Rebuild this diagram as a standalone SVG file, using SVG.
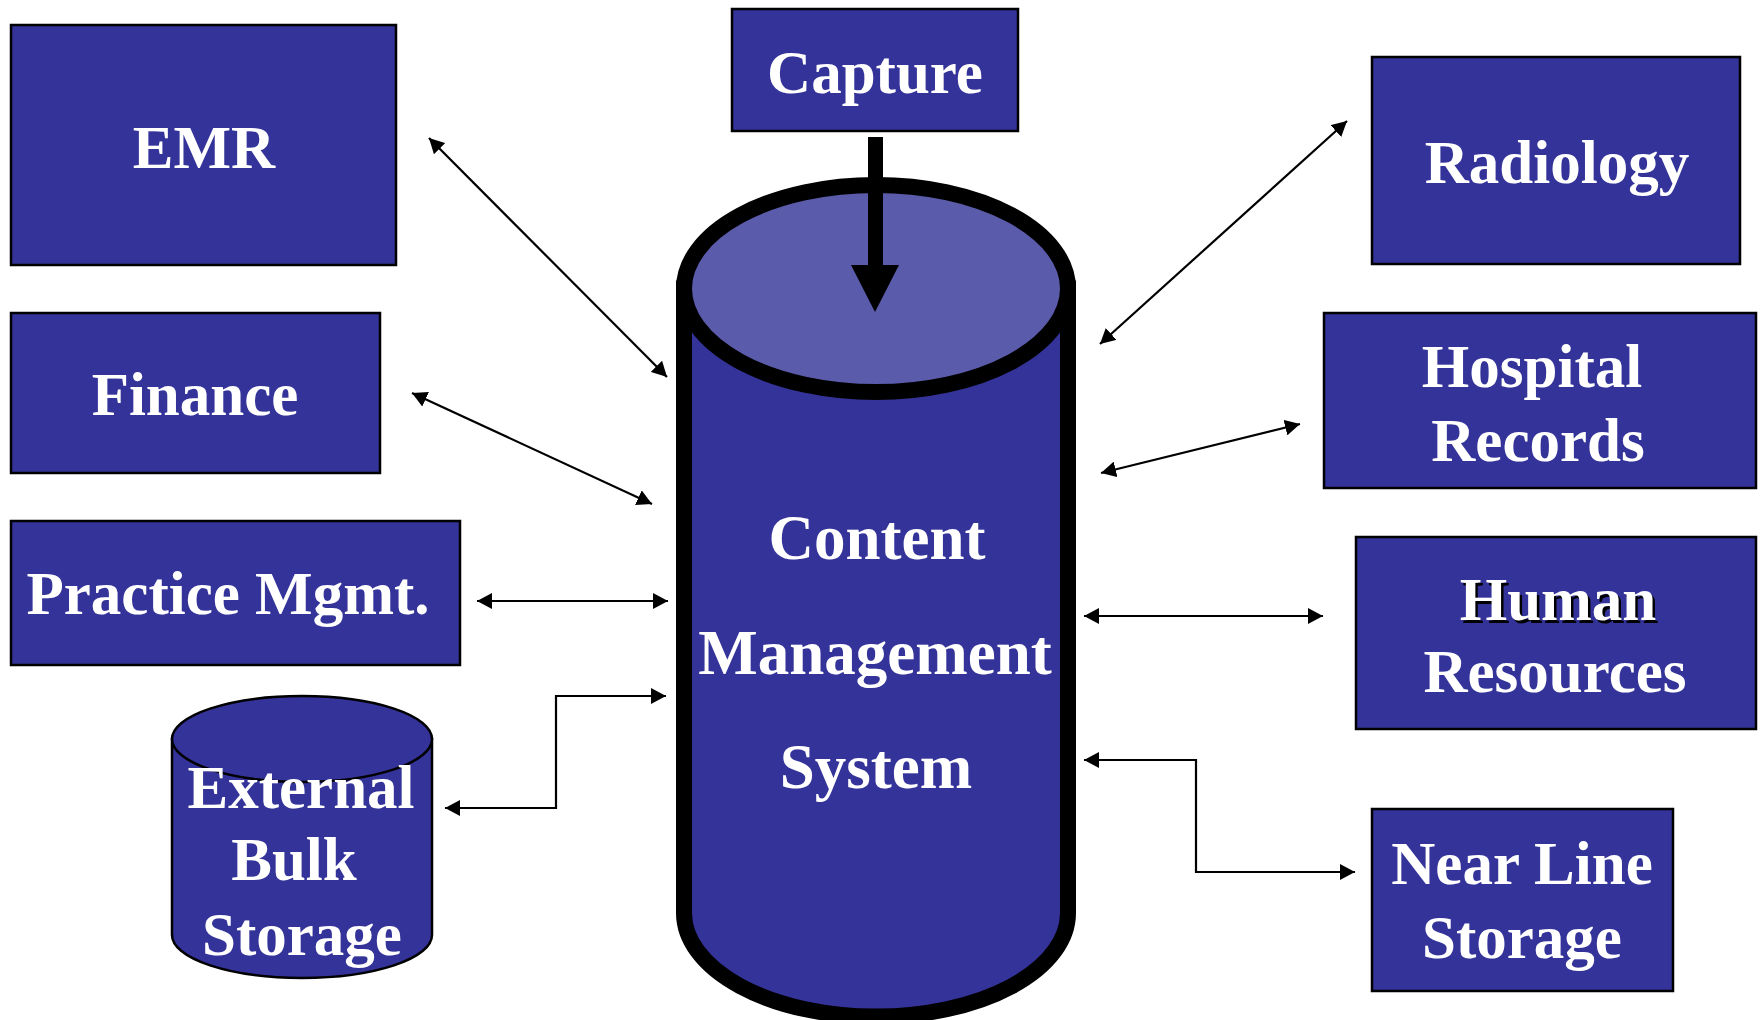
<svg xmlns="http://www.w3.org/2000/svg" width="1760" height="1020" viewBox="0 0 1760 1020">
<style>
.box{fill:#343399;stroke:#000;stroke-width:2.5}
.lbl{font-family:"Liberation Serif","Times New Roman",serif;font-weight:bold;font-size:61px;fill:#fff;text-anchor:middle}
.big{font-size:63px}
.con{fill:none;stroke:#000;stroke-width:2.2}
</style>
<defs>
<marker id="ah" viewBox="0 0 15 16" refX="15" refY="8" markerWidth="15" markerHeight="16" markerUnits="userSpaceOnUse" orient="auto-start-reverse">
<path d="M0,0 L15,8 L0,16 z" fill="#000"/>
</marker>
</defs>
<rect width="1760" height="1020" fill="#fff"/>

<g id="emr"><rect class="box" x="11" y="25" width="385" height="240"/><text class="lbl" x="204" y="168">EMR</text></g>
<g id="finance"><rect class="box" x="11" y="313" width="369" height="160"/><text class="lbl" x="195" y="415">Finance</text></g>
<g id="practice"><rect class="box" x="11" y="521" width="449" height="144"/><text class="lbl" x="228" y="614">Practice Mgmt.</text></g>
<g id="external">
<path d="M172,739 L172,935 A130,43 0 0 0 432,935 L432,739 Z" fill="#343399" stroke="#000" stroke-width="2.5"/>
<ellipse cx="302" cy="739" rx="130" ry="43" fill="#343399" stroke="#000" stroke-width="2.5"/>
<text class="lbl" x="301" y="808">External</text>
<text class="lbl" x="294" y="880">Bulk</text>
<text class="lbl" x="302" y="955">Storage</text>
</g>
<g id="capture"><rect class="box" x="732" y="9" width="286" height="122"/><text class="lbl" x="875" y="93">Capture</text></g>
<g id="radiology"><rect class="box" x="1372" y="57" width="368" height="207"/><text class="lbl" x="1557" y="183">Radiology</text></g>
<g id="hospital"><rect class="box" x="1324" y="313" width="432" height="175"/><text class="lbl" x="1532" y="387">Hospital</text><text class="lbl" x="1538" y="461">Records</text></g>
<g id="hr"><rect class="box" x="1356" y="537" width="400" height="192"/>
<text class="lbl" x="1560.5" y="622.5" fill="#000" style="fill:#000">Human</text>
<text class="lbl" x="1558" y="620">Human</text>
<text class="lbl" x="1555" y="692">Resources</text></g>
<g id="nearline"><rect class="box" x="1372" y="809" width="301" height="182"/><text class="lbl" x="1522" y="884">Near Line</text><text class="lbl" x="1522" y="958">Storage</text></g>

<g id="cms">
<path d="M684,288.5 L684,913 A192,103.5 0 0 0 1068,913 L1068,288.5 Z" fill="#343399" stroke="#000" stroke-width="16"/>
<ellipse cx="876" cy="288.5" rx="192" ry="103.5" fill="#5b5bab" stroke="#000" stroke-width="16"/>
<text class="lbl big" x="877" y="559">Content</text>
<text class="lbl big" x="875" y="674">Management</text>
<text class="lbl big" x="876" y="788">System</text>
</g>

<g id="connectors">
<rect x="868" y="137" width="15" height="130" fill="#000"/>
<polygon points="851,265 899,265 875,312" fill="#000"/>
<line class="con" x1="429" y1="138" x2="667" y2="377" marker-start="url(#ah)" marker-end="url(#ah)"/>
<line class="con" x1="412" y1="393" x2="652" y2="504" marker-start="url(#ah)" marker-end="url(#ah)"/>
<line class="con" x1="477" y1="601" x2="668" y2="601" marker-start="url(#ah)" marker-end="url(#ah)"/>
<polyline class="con" points="666,696 556,696 556,808 445,808" marker-start="url(#ah)" marker-end="url(#ah)"/>
<line class="con" x1="1347" y1="121" x2="1100" y2="344" marker-start="url(#ah)" marker-end="url(#ah)"/>
<line class="con" x1="1300" y1="424" x2="1101" y2="473" marker-start="url(#ah)" marker-end="url(#ah)"/>
<line class="con" x1="1084" y1="616" x2="1323" y2="616" marker-start="url(#ah)" marker-end="url(#ah)"/>
<polyline class="con" points="1084,760 1196,760 1196,872 1355,872" marker-start="url(#ah)" marker-end="url(#ah)"/>
</g>
</svg>
